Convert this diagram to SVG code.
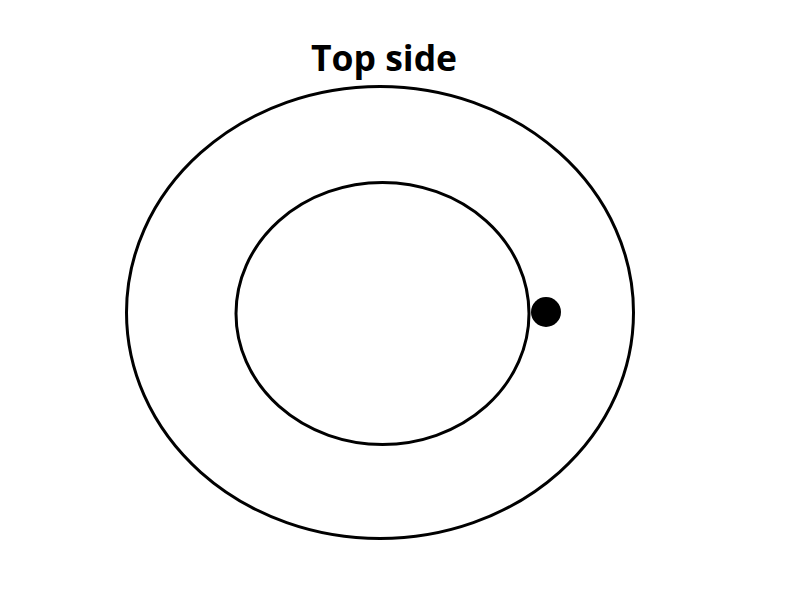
<svg xmlns="http://www.w3.org/2000/svg" width="800" height="600" viewBox="0 0 800 600">
<style>
.ring{fill:none;stroke:#000;stroke-width:3}
.title{font-family:"Open Sans","Noto Sans",sans-serif;font-weight:bold;font-size:35.5px;fill:#000}
</style>
<rect width="800" height="600" fill="#fff"/>
<text class="title" x="384" y="71" text-anchor="middle">Top side</text>
<g id="outer"><ellipse class="ring" cx="380" cy="312.5" rx="253.5" ry="226"/></g>
<g id="inner"><ellipse class="ring" cx="382.5" cy="313.5" rx="146.5" ry="131"/></g>
<g id="dot"><circle cx="546" cy="312" r="15" fill="#000"/></g>
<g id="connectors"></g>
</svg>
